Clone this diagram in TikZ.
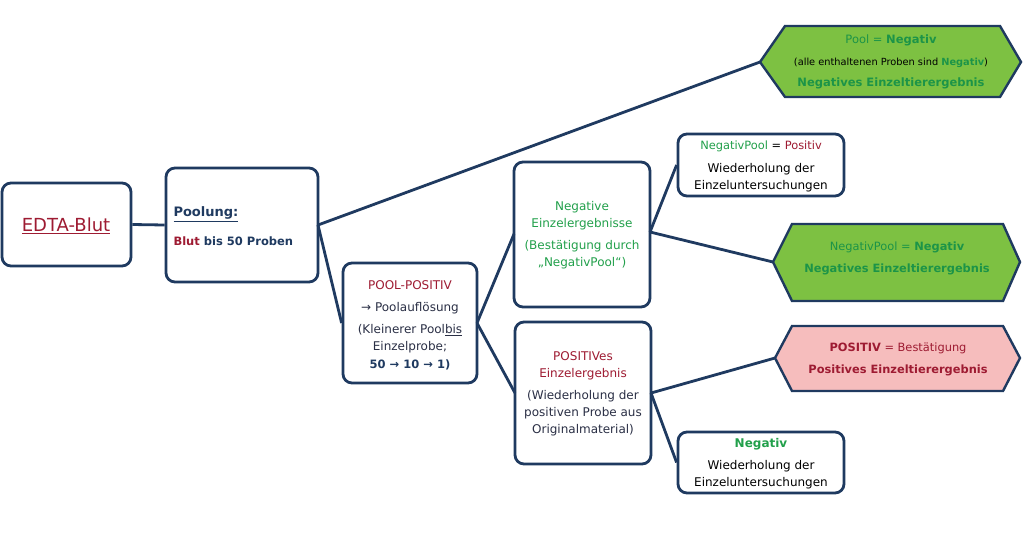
\documentclass[tikz,border=0pt]{standalone}
\usepackage{fontspec}
\setmainfont{DejaVu Sans}
\newfontfamily\symf{DejaVu Sans}
\definecolor{navy}{HTML}{1F3A60}
\definecolor{dred}{HTML}{9E1B32}
\definecolor{grn}{HTML}{22A04B}
\definecolor{hgrn}{HTML}{1C9448}
\definecolor{txt}{HTML}{2A2F45}
\definecolor{hexgreen}{HTML}{7DC142}
\definecolor{hexpink}{HTML}{F6BDBD}
\newcommand{\ar}{{\symf →}}
\tikzset{
  box/.style={draw=navy, line width=2.8pt, rounded corners=9pt, fill=white},
  conn/.style={draw=navy, line width=2.8pt},
  hexs/.style={draw=navy, line width=2.4pt, line join=miter},
  lbl/.style={align=center, text=txt, font=\fontsize{12}{17}\selectfont},
}
\begin{document}
\begin{tikzpicture}[x=1pt,y=-1pt]
\useasboundingbox[fill=white] (0,0) rectangle (1024,536);
\coordinate (tipA) at (760,62);
\coordinate (tipB) at (773,262);
\coordinate (tipC) at (775,358);
% boxes
\node[box, minimum width=129pt, minimum height=83pt] (edta) at (66.5,224.5) {};
\node[box, minimum width=152pt, minimum height=114pt] (pool) at (242,225) {};
\node[box, minimum width=134pt, minimum height=120pt] (pp) at (410,323) {};
\node[box, minimum width=136pt, minimum height=145pt] (neg) at (582,234.5) {};
\node[box, minimum width=136pt, minimum height=142pt] (pos) at (583,393) {};
\node[box, minimum width=166pt, minimum height=62pt] (npp) at (761,165) {};
\node[box, minimum width=166pt, minimum height=61pt] (nw) at (761,462.5) {};
% connector anchor coordinates
\coordinate (poolR) at (318,225);
\coordinate (ppR) at (477,323);
\coordinate (negL) at (514,234);
\coordinate (posL) at (515,393);
\coordinate (negR) at (650,232);
\coordinate (posR) at (651,393);
\draw[conn] (edta.east) -- (pool.west);
\draw[conn] (poolR) -- (tipA);
\draw[conn] (poolR) -- (pp.west);
\draw[conn] (ppR) -- (negL);
\draw[conn] (ppR) -- (posL);
\draw[conn] (negR) -- (npp.west);
\draw[conn] (negR) -- (tipB);
\draw[conn] (posR) -- (tipC);
\draw[conn] (posR) -- (nw.west);
% hexagons
\draw[hexs, fill=hexgreen] (tipA) -- (785,26) -- (1000,26) -- (1021,62) -- (1000,97) -- (785,97) -- cycle;
\draw[hexs, fill=hexgreen] (tipB) -- (792,224) -- (1003,224) -- (1020,262) -- (1003,301) -- (792,301) -- cycle;
\draw[hexs, fill=hexpink] (tipC) -- (792,326) -- (1003,326) -- (1020,358) -- (1003,391) -- (792,391) -- cycle;
% texts
\node[lbl, text=dred, font=\fontsize{18}{20}\selectfont] (tedta) at (66,226) {\underline{EDTA-Blut}};
\node[lbl, anchor=west, text=navy, font=\bfseries\fontsize{13}{16}\selectfont] (tpool1) at (170,214) {\underline{Poolung:}};
\node[lbl, anchor=west, text=navy, font=\bfseries\fontsize{11.5}{13}\selectfont] (tpool2) at (170,241) {\textcolor{dred}{Blut} bis 50 Proben};
\node[lbl] (tpp) at (410,325) {\textcolor{dred}{POOL-POSITIV}\\[5pt]\ar{} Poolauflösung\\[5pt](Kleinerer Pool\underline{bis}\\Einzelprobe;\\[1pt]\textcolor{navy}{\bfseries\fontsize{11.5}{17}\selectfont 50 \ar{} 10 \ar{} 1)}};
\node[lbl, text=grn] (tneg) at (582,235) {Negative\\Einzelergebnisse\\[5pt](Bestätigung durch\\„NegativPool“)};
\node[lbl] (tpos) at (583,394) {\textcolor{dred}{POSITIVes}\\\textcolor{dred}{Einzelergebnis}\\[5pt](Wiederholung der\\positiven Probe aus\\Originalmaterial)};
\node[lbl, text=black] (tnpp) at (761,166) {{\fontsize{11.4}{13}\selectfont\textcolor{grn}{NegativPool} = \textcolor{dred}{Positiv}}\\[6pt]Wiederholung der\\Einzeluntersuchungen};
\node[lbl, text=black] (tnw) at (761,464) {\textcolor{grn}{\bfseries Negativ}\\[5pt]Wiederholung der\\Einzeluntersuchungen};
\node[lbl, text=hgrn] (thA) at (891,62) {{\fontsize{11.5}{13}\selectfont Pool = \textbf{Negativ}}\\[5pt]{\fontsize{9.8}{11}\selectfont\textcolor{black}{(alle enthaltenen Proben sind }\textbf{Negativ}\textcolor{black}{)}}\\[4pt]{\fontsize{11.5}{13}\selectfont\textbf{Negatives Einzeltierergebnis}}};
\node[lbl, text=hgrn, font=\fontsize{11.4}{17}\selectfont] (thB) at (897,258) {NegativPool = \textbf{Negativ}\\[5pt]\textbf{Negatives Einzeltierergebnis}};
\node[lbl, text=dred, font=\fontsize{11.4}{17}\selectfont] (thC) at (898,359) {\textbf{POSITIV} = Bestätigung\\[5pt]\textbf{Positives Einzeltierergebnis}};
\end{tikzpicture}
\end{document}
